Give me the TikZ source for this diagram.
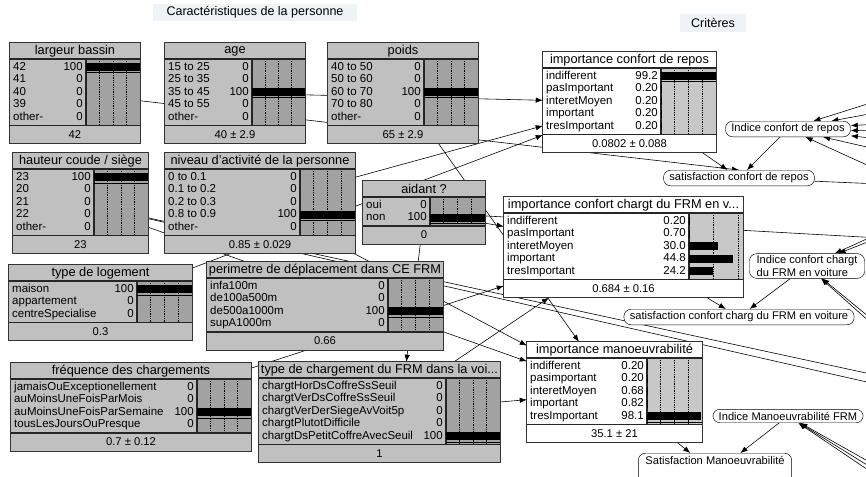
\documentclass[tikz,border=0pt]{standalone}
\usepackage{fontspec}
\setmainfont{Liberation Sans}
\usetikzlibrary{arrows.meta,fit,backgrounds}

\definecolor{boxgray}{HTML}{C0C0C0}
\definecolor{bardark}{HTML}{A2A2A2}
\definecolor{barlight}{HTML}{C8C8C8}
\definecolor{notebg}{HTML}{EDF3F7}

\tikzset{
  evid/.style={fill=boxgray, inner sep=0pt},
  evid bars/.style={fill=bardark},
  belief/.style={fill=white, inner sep=0pt},
  belief bars/.style={fill=barlight},
  boxline/.style={draw=black!80, line width=0.6pt},
  divline/.style={draw=black!85, line width=1pt},
  gridline/.style={densely dotted, line width=0.5pt},
  ttl/.style={font=\fontsize{10.9}{12}\selectfont, inner sep=0pt},
  ftr/.style={font=\fontsize{9.6}{11}\selectfont, inner sep=0pt},
  rowtxt/.style={font=\fontsize{9.8}{11}\selectfont, inner sep=0pt, text height=6.9pt, text depth=1.9pt},
  crit/.style={draw, fill=white, rounded corners=6pt, font=\fontsize{9.5}{11}\selectfont, inner xsep=5pt, inner ysep=2.2pt},
  note/.style={fill=notebg, font=\fontsize{10.7}{12}\selectfont, inner sep=0pt},
  link/.style={-{Latex[length=6pt,width=4.6pt]}, line width=0.5pt},
}

% netica box: name, style, left, top, right, rows, bar left, title, footer
\newcommand{\nbox}[9]{%
  \pgfmathsetmacro{\tb}{#4+16}%
  \pgfmathsetmacro{\bb}{#4+20+#6*12.5}%
  \pgfmathsetmacro{\fb}{\bb+18}%
  \def\nname{#1}\def\nxl{#3}\def\nxr{#5}\def\nbx{#7}%
  \node[#2, fit={(#3,#4)(#5,\fb)}] (#1) {};
  \fill[#2 bars] (#7,\tb) rectangle (#5,\bb);
  \foreach \f in \gridfr
    \draw[gridline] ({#7+\f*(#5-#7)},\tb) -- ({#7+\f*(#5-#7)},\bb);
  \node[ttl] (#1-t) at ({(#3+#5)/2},{#4+8}) {#8};
  \node[ftr] (#1-f) at ({(#3+#5)/2},{\bb+9}) {#9};
  \draw[divline] (#3,\tb) -- (#5,\tb) (#3,\bb) -- (#5,\bb) (#7,\tb) -- (#7,\bb);
  \draw[boxline] (#1.north west) rectangle (#1.south east);
}
% one state: index, label, value, bar fraction
\newcommand{\nrow}[4]{%
  \pgfmathsetmacro{\ry}{\tb+2+(#1-0.5)*12.5}%
  \node[rowtxt, anchor=west] (\nname-#1) at (\nxl+3,\ry) {#2};
  \node[rowtxt, anchor=east] (\nname-#1v) at (\nbx-3,\ry) {#3};
  \fill (\nbx,\ry-3.8) rectangle ({\nbx+#4*(\nxr-\nbx)},\ry+3.8);
  \ifdim#4pt>0.95pt
    \draw[line width=0.6pt] (\nbx,\ry+5.6) -- (\nxr,\ry+5.6);
  \fi
}
\def\gridfr{0.25,0.5,0.75}

\begin{document}
\begin{tikzpicture}[x=0.03cm, y=-0.03cm]
\useasboundingbox (0,0) rectangle (866,477);

%group labels
\node[note, minimum width=6.12cm, minimum height=0.51cm] (caract) at (255,12.5) {Caractéristiques de la personne};
\node[note, minimum width=2cm, minimum height=0.51cm] (criteres) at (713,23) {Critères};

%person
\nbox{LB}{evid}{10}{43}{140}{5}{86}{largeur bassin}{42}
\nrow{1}{42}{100}{1}
\nrow{2}{41}{0}{0}
\nrow{3}{40}{0}{0}
\nrow{4}{39}{0}{0}
\nrow{5}{other-}{0}{0}

\nbox{AGE}{evid}{165}{43}{305}{5}{252}{age}{40 ± 2.9}
\nrow{1}{15 to 25}{0}{0}
\nrow{2}{25 to 35}{0}{0}
\nrow{3}{35 to 45}{100}{1}
\nrow{4}{45 to 55}{0}{0}
\nrow{5}{other-}{0}{0}

\nbox{POIDS}{evid}{328}{43}{478}{5}{424}{poids}{65 ± 2.9}
\nrow{1}{40 to 50}{0}{0}
\nrow{2}{50 to 60}{0}{0}
\nrow{3}{60 to 70}{100}{1}
\nrow{4}{70 to 80}{0}{0}
\nrow{5}{other-}{0}{0}

\nbox{HC}{evid}{13}{153}{148}{5}{94}{hauteur coude / siège}{23}
\nrow{1}{23}{100}{1}
\nrow{2}{20}{0}{0}
\nrow{3}{21}{0}{0}
\nrow{4}{22}{0}{0}
\nrow{5}{other-}{0}{0}

\nbox{NA}{evid}{165}{153}{355}{5}{300}{niveau d'activité de la personne}{0.85 ± 0.029}
\nrow{1}{0 to 0.1}{0}{0}
\nrow{2}{0.1 to 0.2}{0}{0}
\nrow{3}{0.2 to 0.3}{0}{0}
\nrow{4}{0.8 to 0.9}{100}{1}
\nrow{5}{other-}{0}{0}

\nbox{AID}{evid}{363}{181}{485}{2}{430}{aidant ?}{0}
\nrow{1}{oui}{0}{0}
\nrow{2}{non}{100}{1}

\nbox{TL}{evid}{9}{265}{192}{3}{137}{type de logement}{0.3}
\nrow{1}{maison}{100}{1}
\nrow{2}{appartement}{0}{0}
\nrow{3}{centreSpecialise}{0}{0}

\nbox{PER}{evid}{207}{262}{443}{4}{388}{perimetre de déplacement dans CE FRM}{0.66}
\nrow{1}{infa100m}{0}{0}
\nrow{2}{de100a500m}{0}{0}
\nrow{3}{de500a1000m}{100}{1}
\nrow{4}{supA1000m}{0}{0}

\nbox{FC}{evid}{11}{363}{251}{4}{197}{fréquence des chargements}{0.7 ± 0.12}
\nrow{1}{jamaisOuExceptionellement}{0}{0}
\nrow{2}{auMoinsUneFoisParMois}{0}{0}
\nrow{3}{auMoinsUneFoisParSemaine}{100}{1}
\nrow{4}{tousLesJoursOuPresque}{0}{0}

\nbox{TC}{evid}{259}{362}{500}{5}{446}{type de chargement du FRM dans la voi...}{1}
\nrow{1}{chargtHorDsCoffreSsSeuil}{0}{0}
\nrow{2}{chargtVerDsCoffreSsSeuil}{0}{0}
\nrow{3}{chargtVerDerSiegeAvVoit5p}{0}{0}
\nrow{4}{chargtPlutotDifficile}{0}{0}
\nrow{5}{chargtDsPetitCoffreAvecSeuil}{100}{1}

%criteria
\nbox{ICR}{belief}{543}{52}{716}{5}{661}{importance confort de repos}{0.0802 ± 0.088}
\nrow{1}{indifferent}{99.2}{0.992}
\nrow{2}{pasImportant}{0.20}{0.002}
\nrow{3}{interetMoyen}{0.20}{0.002}
\nrow{4}{important}{0.20}{0.002}
\nrow{5}{tresImportant}{0.20}{0.002}

\def\gridfr{0.4545,0.909}
\nbox{ICC}{belief}{504}{197}{743}{5}{689}{importance confort chargt du FRM en v...}{0.684 ± 0.16}
\nrow{1}{indifferent}{0.20}{0.004}
\nrow{2}{pasImportant}{0.70}{0.013}
\nrow{3}{interetMoyen}{30.0}{0.545}
\nrow{4}{important}{44.8}{0.815}
\nrow{5}{tresImportant}{24.2}{0.44}
\def\gridfr{0.25,0.5,0.75}

\nbox{IM}{belief}{527}{342}{702}{5}{647}{importance manoeuvrabilité}{35.1 ± 21}
\nrow{1}{indifferent}{0.20}{0.002}
\nrow{2}{pasimportant}{0.20}{0.002}
\nrow{3}{interetMoyen}{0.68}{0.007}
\nrow{4}{important}{0.82}{0.008}
\nrow{5}{tresImportant}{98.1}{0.981}

\node[crit, minimum width=3.75cm] (IdxR) at (788,129) {Indice confort de repos};
\node[crit, minimum width=4.5cm] (SatR) at (739,178) {satisfaction confort de repos};
\node[crit, align=left, inner ysep=1.5pt, minimum width=3.45cm] (IdxC) at (807,266) {Indice confort chargt\\du FRM en voiture};
\node[crit] (SatC) at (739,317) {satisfaction confort charg du FRM en voiture};
\node[crit, minimum width=4.5cm] (IdxM) at (788,416) {Indice Manoeuvrabilité FRM};
\node[crit, anchor=north, text depth=22pt, minimum width=4.6cm] (SatM) at (715,453) {Satisfaction Manoeuvrabilité};

%free ends of links to nodes out of the picture
\coordinate (hcA) at (880,376);
\coordinate (hcB) at (880,385);
\coordinate (aidOut) at (880,238);
\coordinate (satOut) at (880,184);
\foreach \n/\y in {1/100,2/112,3/124,4/131,5/139,6/150,7/171}
  \coordinate (inR\n) at (880,\y);
\foreach \n/\y in {1/233,2/237,3/276,4/326,5/331}
  \coordinate (inC\n) at (880,\y);
\foreach \n/\y in {1/468,2/473,3/478}
  \coordinate (inM\n) at (880,\y);

%links
\begin{scope}[on background layer]
\draw[link] (LB) -- (SatR.north);
\draw[link] (AGE) -- (ICR);
\draw[link] (NA) -- (ICR);
\draw[link] (TL) -- (ICR);
\draw[link] (POIDS) -- (IM);
\draw[link] (NA) -- (IM);
\draw[link] (HC) -- (IM);
\draw[link] (HC) -- (hcA);
\draw[link] (HC) -- (hcB);
\draw[link] (FC) -- (ICC);
\draw[link] (TC) -- (ICC);
\draw[link] (TC) -- (IM);
\draw[link] (AID) -- (ICC);
\draw[link] (AID) -- (TC.62);
\draw[link] (AID) -- (aidOut);
\draw[link] (ICR) -- (SatR);
\draw[link] (IdxR) -- (SatR);
\draw[link] (SatR) -- (satOut);
\draw[link] (ICC) -- (SatC);
\draw[link] (IdxC) -- (SatC);
\draw[link] (IM) -- (SatM);
\draw[link] (IdxM) -- (SatM);
\foreach \n in {1,...,7}
  \draw[link] (inR\n) -- (IdxR);
\foreach \n in {1,...,5}
  \draw[link] (inC\n) -- (IdxC);
\foreach \n in {1,2,3}
  \draw[link] (inM\n) -- (IdxM);
\end{scope}
\end{tikzpicture}
\end{document}
